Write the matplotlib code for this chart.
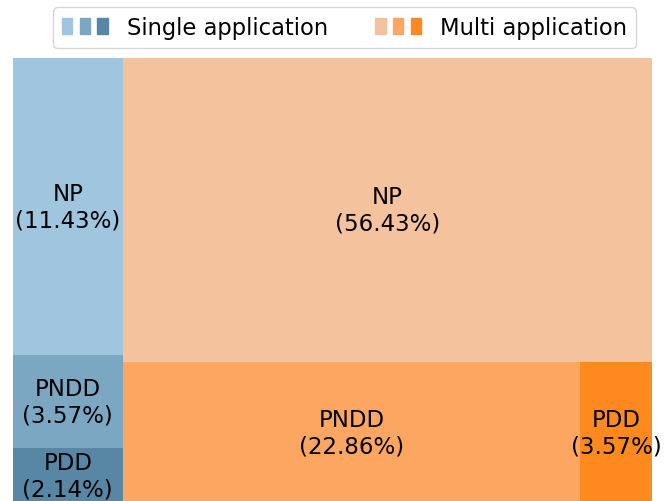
import matplotlib.pyplot as plt
from matplotlib.patches import Patch
from matplotlib.legend_handler import HandlerTuple

# counts per group (out of 140 cases)
groups = ['Single application', 'Multi application']
labels = ['NP', 'PNDD', 'PDD']
single_counts = [16, 5, 3]
multi_counts = [79, 32, 5]
single_colors = ['#9fc5df', '#7ba7c2', '#5886a5']
multi_colors = ['#f5c29e', '#fca661', '#fe8a1f']

total = sum(single_counts) + sum(multi_counts)

fig = plt.figure(figsize=(6.66, 5.02), dpi=100)
# axes runs a few pixels past the bottom edge, like the original
ax = fig.add_axes([13 / 666, -3 / 502, (652 - 13) / 666, (505 - 59) / 502])
ax.set_xlim(0, 1)
ax.set_ylim(0, 1)
ax.axis('off')


def box(x, y, w, h, color, name, cnt):
    ax.add_patch(plt.Rectangle((x, y), w, h, facecolor=color, linewidth=0))
    ax.text(x + w / 2, y + h / 2, f'{name}\n({cnt / total * 100:.2f}%)',
            ha='center', va='center', fontsize=16.5)


# single application: one column, stacked top -> bottom
sw = sum(single_counts) / total
top = 1.0
for name, cnt, col in zip(labels, single_counts, single_colors):
    h = cnt / sum(single_counts)
    box(0, top - h, sw, h, col, name, cnt)
    top -= h

# multi application: NP on top, PNDD / PDD side by side below
mw = 1 - sw
np_h = multi_counts[0] / sum(multi_counts)
box(sw, 1 - np_h, mw, np_h, multi_colors[0], labels[0], multi_counts[0])
rest = sum(multi_counts[1:])
x = sw
for name, cnt, col in zip(labels[1:], multi_counts[1:], multi_colors[1:]):
    w = mw * cnt / rest
    box(x, 0, w, 1 - np_h, col, name, cnt)
    x += w

handles = [tuple(Patch(color=c) for c in single_colors),
           tuple(Patch(color=c) for c in multi_colors)]
fig.legend(handles, groups, ncol=2, fontsize=16.3,
           handler_map={tuple: HandlerTuple(ndivide=None, pad=0.33)},
           loc='upper right', bbox_to_anchor=(636 / 666, 1 - 8 / 502),
           borderaxespad=0, handletextpad=0.85, columnspacing=2.1)

fig.savefig('out.png', dpi=100)
